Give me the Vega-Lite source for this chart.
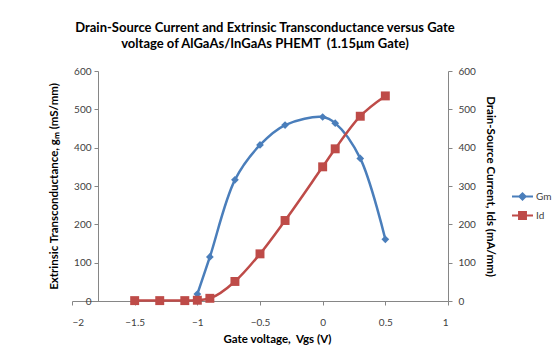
{
  "$schema": "https://vega.github.io/schema/vega-lite/v6.json",
  "autosize": {"type": "none"},
  "padding": {"left": 72, "top": 71, "right": 109, "bottom": 49},
  "width": 376,
  "height": 230,
  "background": "white",
  "config": {
    "view": {"stroke": null},
    "font": "Lato",
    "axis": {"grid": false, "domainColor": "#868686", "tickColor": "#868686", "labelColor": "#404040", "labelFont": "Lato", "labelFontSize": 10, "titleFont": "Lato", "titleFontSize": 11.5, "titleFontWeight": "bold", "titleColor": "#000000", "tickSize": 4}
  },
  "title": {
    "text": ["Drain-Source Current and Extrinsic Transconductance versus Gate", "voltage of AlGaAs/InGaAs PHEMT \u00a0(1.15μm Gate)"],
    "font": "Lato",
    "fontSize": 13,
    "fontWeight": "bold",
    "color": "#000000",
    "anchor": "middle",
    "dx": 5,
    "offset": 15,
    "lineHeight": 16
  },
  "data": {
    "values": [
      {"vgs": -1.0, "series": "Gm", "value": 18},
      {"vgs": -0.9, "series": "Gm", "value": 115},
      {"vgs": -0.7, "series": "Gm", "value": 316},
      {"vgs": -0.5, "series": "Gm", "value": 407},
      {"vgs": -0.3, "series": "Gm", "value": 459},
      {"vgs": 0.0, "series": "Gm", "value": 480},
      {"vgs": 0.1, "series": "Gm", "value": 464},
      {"vgs": 0.3, "series": "Gm", "value": 372},
      {"vgs": 0.5, "series": "Gm", "value": 161},
      {"vgs": -1.5, "series": "Id", "value": 1},
      {"vgs": -1.3, "series": "Id", "value": 1},
      {"vgs": -1.1, "series": "Id", "value": 1},
      {"vgs": -1.0, "series": "Id", "value": 2},
      {"vgs": -0.9, "series": "Id", "value": 7},
      {"vgs": -0.7, "series": "Id", "value": 51},
      {"vgs": -0.5, "series": "Id", "value": 123},
      {"vgs": -0.3, "series": "Id", "value": 210},
      {"vgs": 0.0, "series": "Id", "value": 350},
      {"vgs": 0.1, "series": "Id", "value": 397},
      {"vgs": 0.3, "series": "Id", "value": 482},
      {"vgs": 0.5, "series": "Id", "value": 535}
    ]
  },
  "encoding": {
    "x": {
      "field": "vgs", "type": "quantitative",
      "scale": {"domain": [-2, 1], "nice": false, "zero": false},
      "axis": {"values": [-2, -1.5, -1, -0.5, 0, 0.5, 1], "format": "~g", "labelPadding": 12, "title": "Gate voltage,\u00a0 Vgs (V)", "titleX": 205, "titleY": 41, "titleBaseline": "alphabetic", "titleAnchor": null, "titleAlign": "center"}
    },
    "color": {
      "field": "series", "type": "nominal",
      "scale": {"domain": ["Gm", "Id"], "range": ["#4A7EBB", "#BE4B48"]},
      "legend": {
        "title": null, "orient": "none", "legendX": 439, "legendY": 114,
        "padding": 0, "symbolSize": 441, "symbolStrokeWidth": 2, "rowPadding": 0,
        "labelFont": "Lato", "labelFontSize": 10, "labelColor": "#404040", "labelOffset": 2,
        "encode": {"symbols": {"update": {
          "shape": {"signal": "datum.value === 'Gm' ? 'M-1,0H1M-0.3,0L0,-0.3L0.3,0L0,0.3Z' : 'M-1,0H1M-0.33,-0.33H0.33V0.33H-0.33Z'"},
          "fill": {"scale": "color", "field": "value"},
          "stroke": {"scale": "color", "field": "value"},
          "fillOpacity": {"value": 1},
          "strokeWidth": {"value": 2}
        }}}
      }
    }
  },
  "layer": [
    {
      "transform": [{"filter": "datum.series === 'Gm'"}],
      "encoding": {
        "y": {
          "field": "value", "type": "quantitative",
          "scale": {"domain": [0, 600], "nice": false},
          "axis": {"orient": "left", "offset": -26, "values": [0, 100, 200, 300, 400, 500, 600], "labelPadding": 3, "title": "Extrinsic Transconductance, gₘ (mS/mm)", "titlePadding": 14}
        }
      },
      "layer": [
        {"mark": {"type": "line", "interpolate": "catmull-rom", "strokeWidth": 2.5}},
        {"mark": {"type": "point", "shape": "diamond", "filled": true, "size": 60, "opacity": 1}}
      ]
    },
    {
      "transform": [{"filter": "datum.series === 'Id'"}],
      "encoding": {
        "y": {
          "field": "value", "type": "quantitative",
          "scale": {"domain": [0, 600], "nice": false},
          "axis": {"orient": "right", "values": [0, 100, 200, 300, 400, 500, 600], "labelPadding": 6, "title": "Drain-Source Current, Ids (mA/mm)", "titlePadding": 9}
        }
      },
      "layer": [
        {"mark": {"type": "line", "interpolate": "monotone", "strokeWidth": 2.5}},
        {"mark": {"type": "point", "shape": "square", "filled": true, "size": 80, "opacity": 1}}
      ]
    }
  ],
  "resolve": {"scale": {"y": "independent"}}
}
